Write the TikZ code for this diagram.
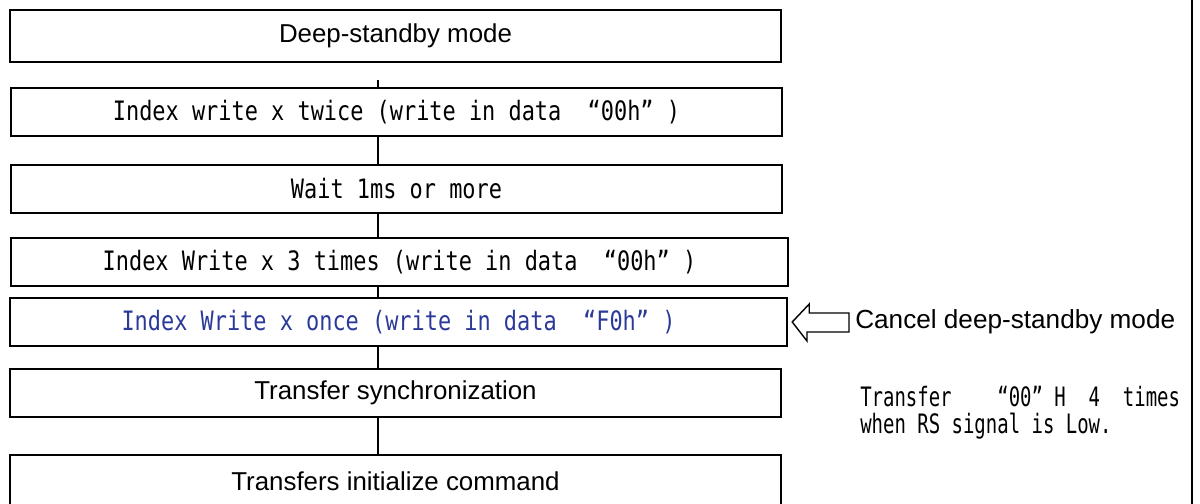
\documentclass[tikz,border=0pt]{standalone}
\usepackage{fontspec}
\setmainfont{Liberation Sans}
\newfontfamily\gothic[FakeStretch=0.82]{DejaVu Sans Mono}
\newfontfamily\gothicnote[FakeStretch=0.71]{DejaVu Sans Mono}
\usetikzlibrary{positioning}
\definecolor{ink}{HTML}{000000}
\definecolor{cmdblue}{HTML}{2B3A98}

\begin{document}
\begin{tikzpicture}[
  x=0.025cm, y=-0.025cm,
  stepbox/.style={draw=ink, line width=1.3pt, minimum width=19.275cm, minimum height=1.2cm, inner sep=0pt, font=\fontsize{18.4}{22}\selectfont},
  widebox/.style={stepbox, minimum width=19.425cm},
  mono/.style={font=\gothic\fontsize{19}{21}\selectfont},
  link/.style={line width=0.8pt, draw=ink},
  hollow/.style={draw=ink, line width=1pt, fill=white},
  lbl/.style={font=\fontsize{18.6}{22}\selectfont, inner sep=0pt},
  note/.style={font=\gothicnote\fontsize{19}{19.1}\selectfont, align=left, inner sep=0pt},
]
\useasboundingbox (0,0) rectangle (1200,504);

% ---------- sequence ----------
\node[stepbox, minimum height=1.3cm] (DS) at (395.5,36) {Deep-standby mode};
\node[stepbox, mono] (IW2) at (396.5,112) {Index write x twice (write in data\ \ “00h”\ )};
\node[stepbox, mono] (WT) at (396.5,189) {Wait 1ms or more};
\node[widebox, mono] (IW3) at (399.5,262) {Index Write x 3 times (write in data\ \ “00h”\ )};
\node[widebox, mono, text=cmdblue] (IW1) at (398.5,322) {Index Write x once (write in data\ \ “F0h”\ )};
\node[stepbox] (TS) at (395.5,393) {Transfer synchronization};
\node[stepbox, minimum height=1.3cm] (TI) at (395.5,481) {Transfers initialize command};

% ---------- side notes ----------
\node[lbl, anchor=west] (CL) at (855,322) {Cancel deep-standby mode};
\node[note, anchor=west] (NT) at (860,413) {Transfer\ \ \ \ “00”\ H\ \ 4\ \ times\\when RS signal is Low.};

% ---------- edges ----------
\coordinate (spine) at (378,0);
\draw[link, shorten <=0.42cm] (DS.south -| spine) -- (IW2.north -| spine);
\draw[link] (IW2.south -| spine) -- (WT.north -| spine);
\draw[link] (WT.south -| spine) -- (IW3.north -| spine);
\draw[link] (IW3.south -| spine) -- (IW1.north -| spine);
\draw[link] (IW1.south -| spine) -- (TS.north -| spine);
\draw[link] (TS.south -| spine) -- (TI.north -| spine);

% hollow arrow into the cancel step
\draw[hollow] ([xshift=3]IW1.east) -- ++(17,-18) -- ++(0,9) -- (849,313) -- (849,332) -- (807,332) -- ++(0,9) -- cycle;

% right frame edge
\coordinate (rtop) at (1192,0);
\coordinate (rbot) at (1192,504);
\draw[link, line width=1pt] (rtop) -- (rbot);

\end{tikzpicture}
\end{document}
